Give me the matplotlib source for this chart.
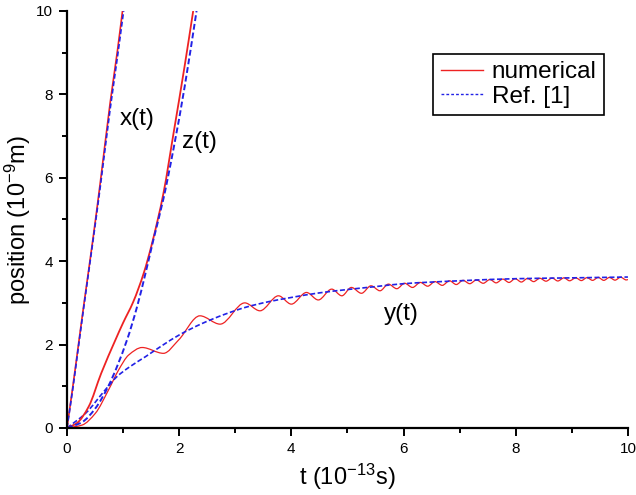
import numpy as np
import matplotlib.pyplot as plt
from matplotlib.path import Path
from matplotlib.patches import PathPatch
from matplotlib.lines import Line2D
from matplotlib.ticker import MultipleLocator

plt.rcParams['font.family'] = 'Liberation Sans'
plt.rcParams['mathtext.fontset'] = 'custom'
plt.rcParams['mathtext.rm'] = 'Liberation Sans'
plt.rcParams['mathtext.it'] = 'Liberation Sans:italic'

RED = '#ee2222'
BLUE = '#2222e6'

# x(t)
x_num_t = [0, 0.1, 0.2, 0.3, 0.46, 0.6, 0.77, 0.9, 0.99]
x_num_y = [0, 0.95, 1.95, 2.95, 4.5, 5.95, 7.8, 9.05, 10.0]
x_ref_t = [0, 0.1, 0.2, 0.3, 0.46, 0.6, 0.77, 0.9, 1.01]
x_ref_y = [0, 0.9, 1.9, 2.9, 4.45, 5.85, 7.65, 8.9, 10.0]

# z(t)
z_num_t = [0, 0.18, 0.386, 0.61, 0.86, 1.0, 1.18, 1.37, 1.515, 1.72, 1.9, 2.1, 2.25]
z_num_y = [0, 0.12, 0.51, 1.31, 2.1, 2.52, 3.02, 3.72, 4.42, 5.63, 7.07, 8.7, 10.0]
z_ref_t = [0, 0.27, 0.5, 0.74, 1.07, 1.25, 1.40, 1.54, 1.72, 1.9, 2.1, 2.31]
z_ref_y = [0, 0.14, 0.46, 1.01, 2.11, 2.91, 3.71, 4.51, 5.5, 6.7, 8.2, 10.0]

# y(t)
y_ref_t = [0, 0.33, 0.68, 0.89, 1.1, 1.4, 1.7, 2.0, 2.4, 2.8, 3.2, 3.6, 4.0,
           4.5, 5.0, 5.5, 6.0, 7.0, 8.0, 9.0, 10.0]
y_ref_y = [0, 0.35, 0.91, 1.23, 1.45, 1.71, 1.98, 2.23, 2.5, 2.72, 2.9, 3.03, 3.13,
           3.24, 3.32, 3.39, 3.46, 3.53, 3.58, 3.6, 3.62]

y_num_t = [0, 0.27, 0.505, 0.74, 0.92, 1.10, 1.34, 1.72, 1.99, 2.37, 2.73, 3.17, 3.44,
           3.77, 4.0, 4.27, 4.48, 4.72, 4.90, 5.07, 5.25,
           5.42, 5.58, 5.73, 5.88, 6.02, 6.16, 6.30, 6.43, 6.56, 6.69, 6.82, 6.94,
           7.06, 7.18, 7.30, 7.42, 7.54, 7.65, 7.77, 7.88, 7.99, 8.10, 8.21, 8.32,
           8.43, 8.54, 8.65, 8.75, 8.86, 8.96, 9.07, 9.17, 9.27, 9.37, 9.47, 9.57,
           9.67, 9.77, 9.87, 9.97, 10.0]
y_num_y = [0, 0.07, 0.35, 0.91, 1.39, 1.75, 1.93, 1.79, 2.11, 2.69, 2.49, 3.0, 2.81,
           3.17, 2.97, 3.25, 3.07, 3.33, 3.17, 3.37, 3.23,
           3.41, 3.29, 3.45, 3.34, 3.47, 3.37, 3.49, 3.40, 3.51, 3.42, 3.53, 3.44,
           3.54, 3.46, 3.55, 3.47, 3.56, 3.48, 3.57, 3.49, 3.58, 3.50, 3.585, 3.51,
           3.59, 3.52, 3.595, 3.525, 3.60, 3.53, 3.60, 3.535, 3.605, 3.54, 3.61, 3.54,
           3.61, 3.545, 3.615, 3.55, 3.56]


def smooth_path(t, y):
    # monotone cubic (Fritsch-Carlson) tangents -> bezier segments
    t = np.asarray(t, float)
    y = np.asarray(y, float)
    h = np.diff(t)
    d = np.diff(y) / h
    m = np.zeros_like(y)
    for k in range(1, len(y) - 1):
        if d[k - 1] * d[k] > 0:
            w1 = 2 * h[k] + h[k - 1]
            w2 = h[k] + 2 * h[k - 1]
            m[k] = (w1 + w2) / (w1 / d[k - 1] + w2 / d[k])
    m[0] = d[0]
    m[-1] = d[-1]
    verts = [(t[0], y[0])]
    codes = [Path.MOVETO]
    for k in range(len(h)):
        verts += [(t[k] + h[k] / 3, y[k] + m[k] * h[k] / 3),
                  (t[k + 1] - h[k] / 3, y[k + 1] - m[k + 1] * h[k] / 3),
                  (t[k + 1], y[k + 1])]
        codes += [Path.CURVE4] * 3
    return Path(verts, codes)


def draw_curve(ax, t, y, color, lw, ls='-'):
    ax.add_patch(PathPatch(smooth_path(t, y), fill=False, edgecolor=color,
                           lw=lw, linestyle=ls, capstyle='butt'))


fig = plt.figure(figsize=(6.36, 4.95), dpi=100)
ax = fig.add_axes([0.1053, 0.1354, 0.882, 0.8424])

dash = (0, (3, 1.5))
draw_curve(ax, y_num_t, y_num_y, RED, 0.9)
draw_curve(ax, y_ref_t, y_ref_y, BLUE, 1.2, dash)
draw_curve(ax, z_num_t, z_num_y, RED, 1.3)
draw_curve(ax, z_ref_t, z_ref_y, BLUE, 1.4, dash)
draw_curve(ax, x_num_t, x_num_y, RED, 1.2)
draw_curve(ax, x_ref_t, x_ref_y, BLUE, 1.2, dash)

ax.set_xlim(0, 10)
ax.set_ylim(0, 10)
ax.spines['top'].set_visible(False)
ax.spines['right'].set_visible(False)
ax.spines['left'].set_linewidth(1.6)
ax.spines['bottom'].set_linewidth(1.6)
ax.xaxis.set_major_locator(MultipleLocator(2))
ax.yaxis.set_major_locator(MultipleLocator(2))
ax.xaxis.set_minor_locator(MultipleLocator(1))
ax.yaxis.set_minor_locator(MultipleLocator(1))
ax.tick_params(which='major', direction='out', length=6, width=1.4, labelsize=11, pad=4)
ax.tick_params(which='minor', direction='out', length=3.5, width=1.4)

ax.set_xlabel(r't (10$^{\mathrm{-13}}$s)', fontsize=17, labelpad=4)
ax.set_ylabel(r'position (10$^{\mathrm{-9}}$m)', fontsize=17, labelpad=2)

ax.text(1.25, 7.41, 'x(t)', fontsize=17.5, ha='center', va='center')
ax.text(2.37, 6.86, 'z(t)', fontsize=17.5, ha='center', va='center')
ax.text(5.97, 2.73, 'y(t)', fontsize=17.5, ha='center', va='center')

handles = [Line2D([], [], color=RED, lw=1.0),
           Line2D([], [], color=BLUE, lw=1.0, linestyle=(0, (2, 1.5)))]
leg = ax.legend(handles, ['numerical', 'Ref. [1]'], loc='upper right',
                bbox_to_anchor=(0.957, 0.897), borderaxespad=0, fontsize=17.5,
                fancybox=False, edgecolor='black', framealpha=1,
                handlelength=1.75, handletextpad=0.35, borderpad=0.3, labelspacing=0.1)
leg.get_frame().set_linewidth(1.2)

fig.savefig('out.png', dpi=100)
